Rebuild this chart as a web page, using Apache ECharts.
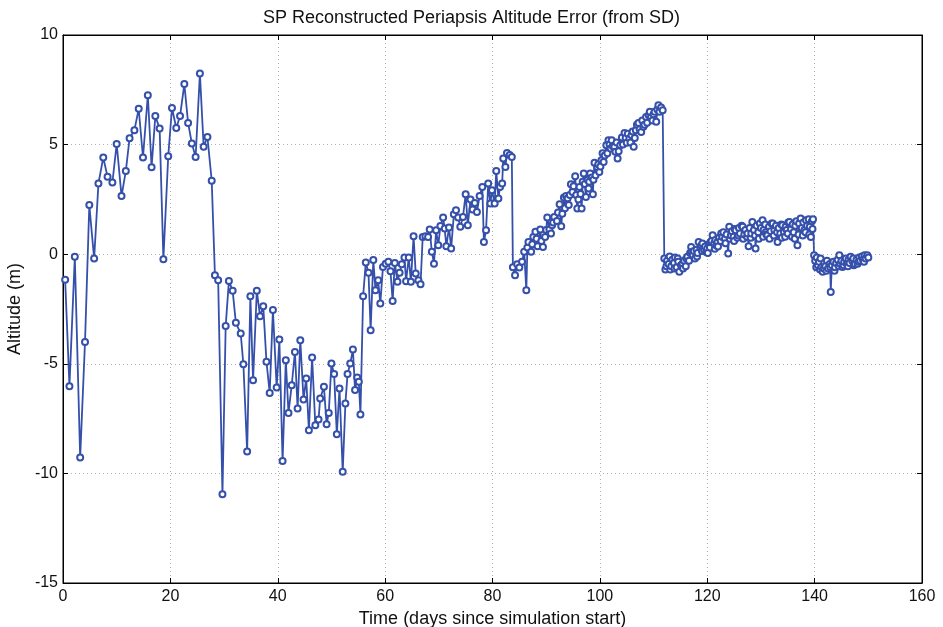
<!DOCTYPE html>
<html>
<head>
<meta charset="utf-8">
<title>SP Reconstructed Periapsis Altitude Error</title>
<script src="https://cdn.jsdelivr.net/npm/echarts@6/dist/echarts.min.js"></script>
<style>
  html, body { margin: 0; padding: 0; background: #fff; }
  #chart { width: 943px; height: 627px; }
</style>
</head>
<body>
<div id="chart"></div>
<script>
// Periapsis altitude error [day, metres], grouped by phase of the run
const phaseA = [
  [0.4,-1.16],[1.2,-6.02],[2.2,-0.12],[3.2,-9.28],[4.1,-4.0],[4.9,2.24],[5.8,-0.2],[6.6,3.22],
  [7.5,4.41],[8.3,3.53],[9.2,3.27],[10.0,5.03],[10.9,2.65],[11.7,3.79],[12.4,5.29],[13.3,5.66],
  [14.1,6.63],[14.9,4.41],[15.8,7.25],[16.5,3.97],[17.2,6.3],[18.0,5.73],[18.7,-0.23],[19.6,4.47],
  [20.3,6.67],[21.1,5.76],[21.8,6.3],[22.6,7.76],[23.3,5.99],[24.0,5.05],[24.7,4.44],[25.5,8.24],
  [26.2,4.9],[26.9,5.35],[27.7,3.35]
];
const phaseB = [
  [28.3,-0.96],[28.9,-1.19],[29.7,-10.95],[30.3,-3.28],[30.9,-1.22],[31.6,-1.67],[32.2,-3.13],
  [33.1,-3.62],[33.6,-5.02],[34.3,-9.0],[34.9,-1.92],[35.4,-5.75],[36.1,-1.67],[36.7,-2.83],
  [37.3,-2.37],[37.9,-4.91],[38.5,-6.33],[39.1,-2.55],[39.8,-6.08],[40.3,-3.89],[40.9,-9.43],
  [41.5,-4.84],[42.0,-7.24],[42.6,-5.98],[43.2,-4.46],[43.7,-7.04],[44.2,-3.92],[44.8,-6.63],
  [45.3,-5.67],[45.8,-8.03],[46.4,-4.71],[47.0,-7.8],[47.6,-7.54],[47.9,-6.58],[48.6,-6.05],
  [49.1,-7.76],[49.5,-7.24],[50.0,-4.99],[50.5,-5.47],[51.0,-8.21],[51.5,-6.13],[52.1,-9.93],
  [52.6,-6.81],[53.0,-5.47],[53.5,-4.99],[54.0,-4.35],[54.4,-6.2],[54.8,-5.63],[55.1,-5.82],
  [55.4,-7.31]
];
const phaseC = [
  [55.9,-1.92],[56.4,-0.38],[56.9,-0.85],[57.3,-3.47],[57.8,-0.27],[58.2,-1.64],[58.7,-1.19],
  [59.1,-2.25],[59.6,-0.58],[60.1,-0.43],[60.6,-0.35],[61.0,-0.78],[61.4,-2.14],[61.8,-0.4],
  [62.3,-1.26],[62.7,-0.85],[63.1,-0.46],[63.6,-0.15],[63.9,-1.23],[64.4,-0.15],[64.8,-1.26],
  [65.3,0.82],[65.7,-0.88],[66.2,-1.19],[66.6,-1.37],[67.0,0.79],[67.5,0.82],[68.0,0.79],
  [68.3,1.13],[68.7,0.11],[69.1,-0.43],[69.5,1.09],[69.9,0.41],[70.3,1.29],[70.8,1.67],
  [71.1,1.17],[71.4,0.36],[71.9,1.22],[72.3,0.26],[72.8,1.82],[73.2,2.0],[73.6,1.67],
  [74.0,1.25],[74.5,1.7],[75.0,2.74],[75.4,1.32],[75.9,2.5],[76.3,2.04],[76.7,2.34],
  [77.1,1.93],[77.6,2.65],[78.1,3.07],[78.4,0.56],[78.8,1.09],[79.2,3.22],[79.6,2.31],
  [79.9,2.92],[80.4,2.31],[80.7,3.8],[81.1,2.54],[81.4,3.07],[81.8,3.22],[82.0,4.37],
  [82.4,3.98],[82.7,4.62],[83.2,4.52],[83.6,4.44]
];
const phaseD = [
  [83.8,-0.6],[84.2,-0.96],[84.6,-0.46],[85.0,-0.61],[85.5,-0.35],[85.9,0.11],[86.3,-1.64],
  [86.5,0.3],[86.7,0.56],[87.2,0.11],[87.4,0.45],[87.6,0.79],[88.0,1.02],[88.2,0.7],[88.4,0.36],
  [88.9,1.13],[89.1,0.6],[89.4,0.33],[89.8,0.79],[90.0,1.1],[90.2,1.67],[90.6,1.13],[90.9,0.95],
  [91.1,1.32],[91.3,1.45],[91.5,1.7],[92.0,1.52],[92.2,1.9],[92.5,2.28],[92.8,1.28],[93.0,1.85],
  [93.3,2.59],[93.5,2.1],[93.7,2.65],[94.0,2.55],[94.2,2.24],[94.4,2.7],[94.6,3.19],[94.9,2.84],
  [95.1,3.1],[95.4,3.56],[95.6,2.7],[95.8,2.08],[96.0,2.5],[96.2,3.07],[96.4,2.75],[96.6,2.08],
  [96.8,3.3],[97.0,3.68],[97.2,3.2],[97.4,2.61],[97.7,3.4],[97.9,3.0],[98.0,3.3],[98.2,3.68],
  [98.5,3.5],[98.7,2.74],[98.8,3.4],[99.0,4.17],[99.2,3.6],[99.5,3.98],[99.7,4.1],[99.9,3.75],
  [100.1,4.0],[100.3,4.29],[100.5,4.6],[100.7,4.21],[100.9,4.5],[101.2,4.97],[101.4,4.6],
  [101.6,5.2],[101.8,5.0],[102.0,4.82],[102.2,5.2],[102.4,4.93],[102.7,4.9],[102.9,4.67],
  [103.1,5.1],[103.3,4.37],[103.5,4.7],[103.8,4.97],[104.1,5.32],[104.3,5.0],[104.6,5.53],
  [104.8,5.3],[105.0,5.08],[105.2,5.5],[105.5,5.28],[105.7,5.1],[105.9,5.43],[106.1,5.6],
  [106.3,4.9],[106.5,5.3],[106.7,5.66],[106.9,5.9],[107.2,5.99],[107.4,5.7],[107.7,5.58],
  [107.9,6.1],[108.1,5.81],[108.3,5.9],[108.6,6.26],[108.8,6.0],[109.1,6.34],[109.3,6.5],
  [109.5,6.24],[109.8,6.1],[110.0,6.39],[110.2,6.5],[110.5,6.04],[110.7,6.6],[110.9,6.8],
  [111.1,6.5],[111.4,6.69],[111.7,6.57]
];
const phaseE = [
  [112.0,-0.2],[112.2,-0.7],[112.4,-0.55],[112.5,-0.3],[112.8,-0.45],[113.0,-0.1],[113.1,-0.7],
  [113.3,-0.55],[113.5,-0.25],[113.8,-0.4],[113.9,-0.65],[114.0,-0.15],[114.3,-0.6],[114.5,-0.2],
  [114.6,-0.35],[114.8,-0.8],[115.1,-0.5],[115.4,-0.43],[115.5,-0.65],[115.7,-0.3],[116.0,-0.55],
  [116.1,-0.2],[116.3,-0.12],[116.6,-0.3],[116.8,0.05],[117.0,0.33],[117.1,0.1],[117.3,-0.05],
  [117.5,0.15],[117.7,-0.2],[118.0,0.2],[118.1,-0.1],[118.2,0.05],[118.4,0.56],[118.7,0.3],
  [118.9,0.4],[119.0,0.15],[119.1,0.49],[119.4,0.2],[119.6,0.35],[119.8,0.1],[120.0,0.26],
  [120.1,0.05],[120.3,0.45],[120.5,0.3],[120.6,0.55],[120.8,0.6],[121.0,0.87],[121.3,0.5],
  [121.4,0.25],[121.5,0.65],[121.7,0.4],[121.9,0.56],[122.0,0.35],[122.2,0.75],[122.5,0.6],
  [122.6,0.95],[122.8,0.79],[123.0,1.0],[123.3,0.7],[123.4,0.5],[123.6,0.9],[123.9,0.03],
  [124.1,1.25],[124.2,0.7],[124.4,0.85],[124.6,1.05],[124.9,0.8],[125.0,0.6],[125.1,1.15],
  [125.3,1.09],[125.6,0.75],[125.8,0.85],[125.9,1.2],[126.1,0.95],[126.4,1.3],[126.6,1.25],
  [126.7,0.7],[126.9,0.9],[127.1,1.1],[127.4,0.8],[127.5,0.95],[127.7,0.36],[127.9,1.2],
  [128.1,0.75],[128.2,0.95],[128.4,1.47],[128.7,1.1],[128.9,0.85],[129.0,0.26],[129.2,1.3],
  [129.5,1.0],[129.6,0.7],[129.8,1.4],[130.0,1.2],[130.3,1.55],[130.4,0.8],[130.5,1.1],
  [130.8,1.35],[130.9,1.0],[131.0,0.9],[131.2,0.87],[131.5,1.25],[131.6,0.7],[131.8,1.05],
  [132.0,1.4],[132.2,1.4],[132.4,0.85],[132.5,1.1],[132.8,1.3],[133.0,1.0],[133.1,0.56],
  [133.3,1.2],[133.6,0.95],[133.8,1.35],[133.9,0.75],[134.0,1.32],[134.3,1.0],[134.5,0.8],
  [134.6,1.25],[134.8,1.1],[135.0,0.95],[135.1,1.45],[135.3,1.47],[135.6,1.15],[135.8,0.8],
  [135.9,1.35],[136.1,1.0],[136.3,0.7],[136.4,1.3],[136.6,1.5],[136.8,0.41],[137.0,0.9],
  [137.1,1.4],[137.4,1.63],[137.6,1.2],[137.8,0.85],[137.9,1.45],[138.1,1.1],[138.3,1.0],
  [138.4,1.55],[138.6,1.3],[138.9,1.6],[139.0,0.9],[139.1,1.25],[139.3,0.78],[139.5,1.5],
  [139.6,1.15],[139.7,1.6]
];
const phaseF = [
  [139.9,-0.05],[140.1,-0.3],[140.3,-0.6],[140.4,-0.15],[140.6,-0.5],[140.8,-0.35],[141.0,-0.7],
  [141.1,-0.2],[141.3,-0.6],[141.5,-0.8],[141.7,-0.65],[141.8,-0.4],[142.0,-0.55],[142.2,-0.75],
  [142.3,-0.3],[142.5,-0.65],[142.8,-0.45],[142.9,-0.6],[143.0,-1.72],[143.2,-0.5],[143.5,-0.35],
  [143.7,-0.75],[143.8,-0.6],[144.0,-0.4],[144.3,-0.25],[144.5,-0.55],[144.6,-0.05],[144.8,-0.45],
  [145.0,-0.3],[145.2,-0.58],[145.4,-0.5],[145.5,-0.35],[145.8,-0.2],[146.0,-0.45],[146.2,-0.55],
  [146.3,-0.25],[146.5,-0.4],[146.7,-0.12],[147.0,-0.3],[147.2,-0.2],[147.3,-0.5],[147.5,-0.45],
  [147.8,-0.25],[148.0,-0.43],[148.2,-0.35],[148.3,-0.15],[148.5,-0.3],[148.8,-0.1],[149.0,-0.25],
  [149.2,-0.35],[149.3,-0.05],[149.5,-0.2],[149.8,-0.05],[150.0,-0.15]
];

// Axis ticks
const xTicks = [0, 20, 40, 60, 80, 100, 120, 140, 160];
const yTicks = [-15, -10, -5, 0, 5, 10];

const altitudeError = [].concat(phaseA, phaseB, phaseC, phaseD, phaseE, phaseF)
  .sort((a, b) => a[0] - b[0]);

const lineBlue = '#3550AA';
const font = '"Liberation Sans", Arial, Helvetica, sans-serif';

const chart = echarts.init(document.getElementById('chart'), null, { renderer: 'canvas' });

const gridLine = { show: true, lineStyle: { color: '#b0b0b0', type: [1, 3], width: 1 } };
const tickIn = { show: true, inside: true, length: 5, lineStyle: { color: '#000' } };
const frameLine = { show: true, onZero: false, lineStyle: { color: '#000', width: 1 } };

chart.setOption({
  animation: false,
  backgroundColor: '#fff',
  title: {
    text: 'SP Reconstructed Periapsis Altitude Error (from SD)',
    left: 'center',
    top: 4,
    textStyle: { fontFamily: font, fontSize: 18, fontWeight: 'normal', color: '#111' }
  },
  grid: {
    left: 63, right: 21, top: 35, bottom: 44,
    containLabel: false,
    outerBoundsMode: 'none',
    show: true, borderColor: '#000', borderWidth: 1, backgroundColor: 'transparent'
  },
  xAxis: [{
    type: 'value',
    min: xTicks[0], max: xTicks[xTicks.length - 1], interval: 20,
    name: 'Time (days since simulation start)',
    nameLocation: 'middle', nameGap: 22,
    nameTextStyle: { fontFamily: font, fontSize: 18, color: '#111' },
    axisLine: frameLine,
    axisTick: tickIn,
    axisLabel: { fontFamily: font, fontSize: 16, color: '#111', margin: 6 },
    splitLine: gridLine
  }, {
    type: 'value', position: 'top',
    min: xTicks[0], max: xTicks[xTicks.length - 1], interval: 20,
    axisLine: frameLine,
    axisTick: tickIn, axisLabel: { show: false }, splitLine: { show: false }
  }],
  yAxis: [{
    type: 'value',
    min: yTicks[0], max: yTicks[yTicks.length - 1], interval: 5,
    name: 'Altitude (m)',
    nameLocation: 'middle', nameGap: 36,
    nameTextStyle: { fontFamily: font, fontSize: 18, color: '#111' },
    axisLine: frameLine,
    axisTick: tickIn,
    axisLabel: { fontFamily: font, fontSize: 16, color: '#111', margin: 5 },
    splitLine: gridLine
  }, {
    type: 'value', position: 'right',
    min: yTicks[0], max: yTicks[yTicks.length - 1], interval: 5,
    axisLine: frameLine,
    axisTick: tickIn, axisLabel: { show: false }, splitLine: { show: false }
  }],
  series: [{
    type: 'line',
    xAxisIndex: 0, yAxisIndex: 0,
    data: altitudeError,
    symbol: 'emptyCircle',
    symbolSize: 6,
    showAllSymbol: true,
    lineStyle: { color: lineBlue, width: 1.8 },
    itemStyle: { color: lineBlue, borderColor: lineBlue, borderWidth: 1.4 },
    emphasis: { disabled: true }
  }]
});
</script>
</body>
</html>
